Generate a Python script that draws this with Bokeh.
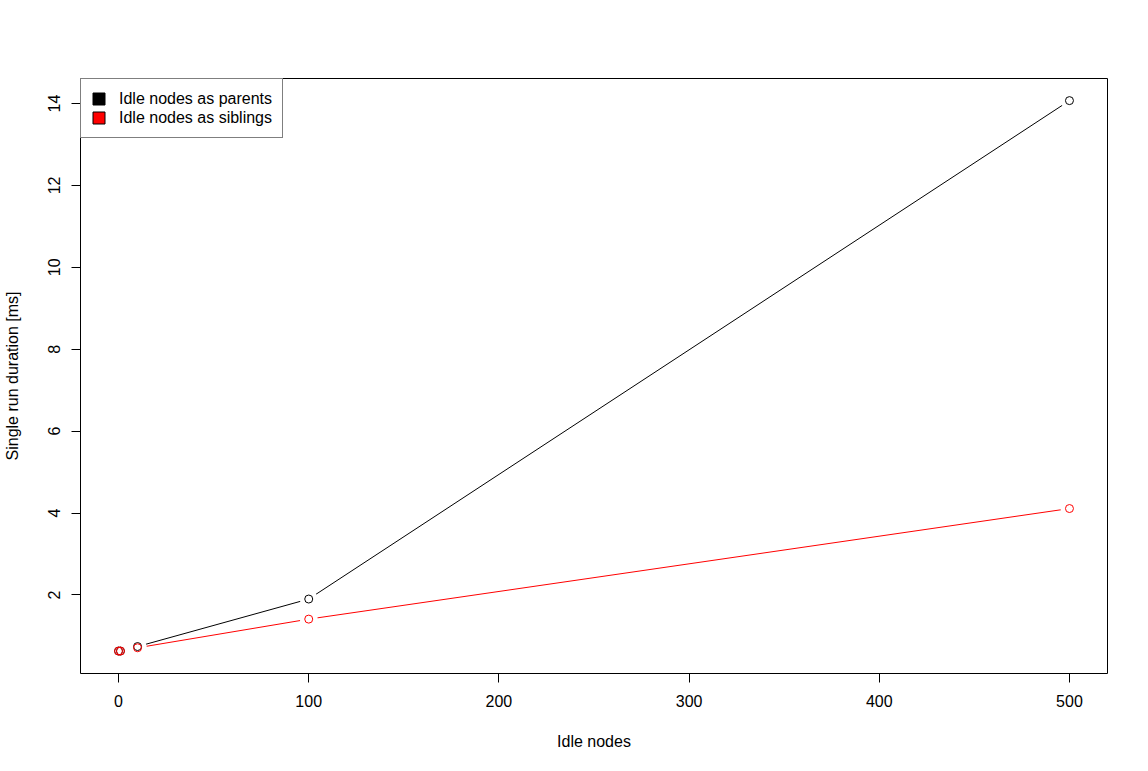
from bokeh.plotting import figure
from bokeh.models import Range1d, FixedTicker, Legend, LegendItem
from bokeh.embed import file_html
from bokeh.resources import INLINE

idle_nodes = [0, 1, 10, 100, 500]
parents_ms = [0.63, 0.63, 0.74, 1.90, 14.07]
siblings_ms = [0.63, 0.63, 0.71, 1.41, 4.11]
x_ticks = [0, 100, 200, 300, 400, 500]
y_ticks = [2, 4, 6, 8, 10, 12, 14]
legend_labels = ["Idle nodes as parents", "Idle nodes as siblings"]
legend_colors = ["black", "red"]

FONT = "Liberation Sans"
FS = "16px"

p = figure(width=1132, height=755, output_backend="svg", toolbar_location=None,
           x_range=Range1d(-20, 520), y_range=Range1d(0.082, 14.61),
           min_border_left=79, min_border_right=25, min_border_top=78, min_border_bottom=82)
p.background_fill_color = "white"
p.border_fill_color = "white"
p.outline_line_color = "black"
p.outline_line_width = 1
p.grid.visible = False

for ax in (p.xaxis[0], p.yaxis[0]):
    ax.axis_line_color = None
    ax.major_tick_line_color = "black"
    ax.major_tick_out = 9
    ax.major_tick_in = 0
    ax.minor_tick_line_color = None
    ax.major_label_text_font = FONT
    ax.major_label_text_font_size = FS
    ax.major_label_text_color = "black"
    ax.axis_label_text_font = FONT
    ax.axis_label_text_font_size = FS
    ax.axis_label_text_font_style = "normal"
    ax.axis_label_text_color = "black"

p.xaxis.ticker = FixedTicker(ticks=x_ticks)
p.yaxis.ticker = FixedTicker(ticks=y_ticks)
p.yaxis.major_label_orientation = "vertical"
p.xaxis.axis_label = "Idle nodes"
p.yaxis.axis_label = "Single run duration [ms]"
p.xaxis.major_label_standoff = 12
p.yaxis.major_label_standoff = 11
p.xaxis.axis_label_standoff = 23
p.yaxis.axis_label_standoff = 25

p.line(idle_nodes, parents_ms, line_color="black", line_width=1)
p.line(idle_nodes, siblings_ms, line_color="red", line_width=1)
p.scatter(idle_nodes, parents_ms, size=18, fill_color="white", line_color=None)
p.scatter(idle_nodes, siblings_ms, size=18, fill_color="white", line_color=None)
p.scatter(idle_nodes, parents_ms, size=8, fill_color=None, line_color="black", line_width=1)
p.scatter(idle_nodes, siblings_ms, size=8, fill_color=None, line_color="red", line_width=1)

nan = float("nan")
items = []
for lab, col in zip(legend_labels, legend_colors):
    r = p.quad(left=[nan], right=[nan], top=[nan], bottom=[nan], fill_color=col, line_color="black")
    items.append(LegendItem(label=lab, renderers=[r]))

legend = Legend(items=items,
                location="top_left", margin=0, padding=10, spacing=0,
                glyph_width=15, glyph_height=15, label_height=19, label_standoff=13,
                label_text_font=FONT, label_text_font_size=FS, label_text_color="black",
                border_line_color="black", border_line_width=1,
                background_fill_color="white", background_fill_alpha=1)
p.add_layout(legend, "center")

open("out.html", "w").write(file_html(p, INLINE))
